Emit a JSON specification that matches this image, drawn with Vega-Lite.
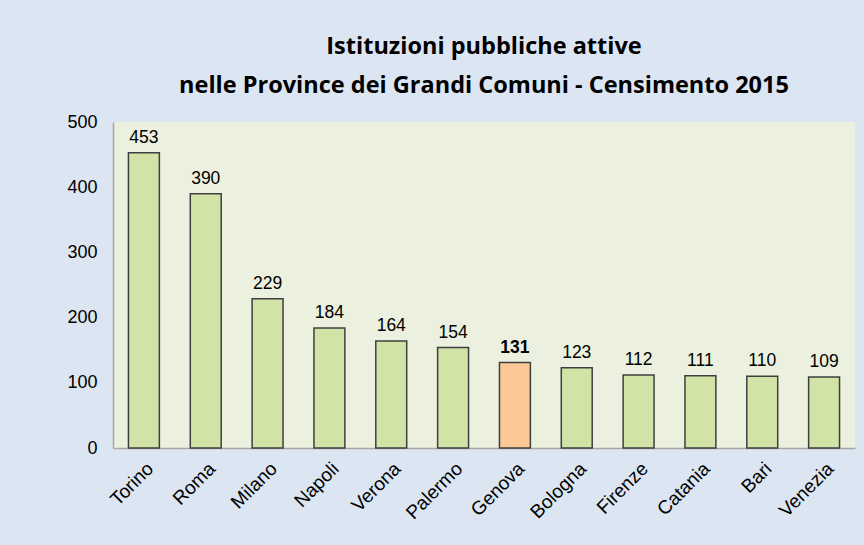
{
  "$schema": "https://vega.github.io/schema/vega-lite/v6.json",
  "width": 742,
  "height": 326,
  "autosize": "none",
  "padding": {"left": 113, "top": 122, "right": 9, "bottom": 97},
  "background": "#DCE6F2",
  "title": {
    "text": ["Istituzioni pubbliche attive", "nelle Province dei Grandi Comuni - Censimento 2015"],
    "font": "Open Sans",
    "fontSize": 23.5,
    "fontWeight": "bold",
    "color": "#000000",
    "anchor": "middle",
    "frame": "group",
    "lineHeight": 39,
    "offset": 16
  },
  "config": {
    "view": {"fill": "#EBF1DE", "stroke": null},
    "axis": {"labelFont": "Liberation Sans", "labelFontSize": 18, "labelColor": "#000000", "grid": false, "ticks": false, "domainColor": "#A6A6A6", "domainWidth": 1.5, "title": null}
  },
  "data": {
    "values": [
      {"provincia": "Torino", "valore": 453, "evidenza": false},
      {"provincia": "Roma", "valore": 390, "evidenza": false},
      {"provincia": "Milano", "valore": 229, "evidenza": false},
      {"provincia": "Napoli", "valore": 184, "evidenza": false},
      {"provincia": "Verona", "valore": 164, "evidenza": false},
      {"provincia": "Palermo", "valore": 154, "evidenza": false},
      {"provincia": "Genova", "valore": 131, "evidenza": true},
      {"provincia": "Bologna", "valore": 123, "evidenza": false},
      {"provincia": "Firenze", "valore": 112, "evidenza": false},
      {"provincia": "Catania", "valore": 111, "evidenza": false},
      {"provincia": "Bari", "valore": 110, "evidenza": false},
      {"provincia": "Venezia", "valore": 109, "evidenza": false}
    ]
  },
  "encoding": {
    "x": {
      "field": "provincia",
      "type": "nominal",
      "sort": null,
      "scale": {"paddingInner": 0.5, "paddingOuter": 0.25},
      "axis": {"labelAngle": -45, "labelPadding": 11, "labelFontSize": 19}
    },
    "y": {
      "field": "valore",
      "type": "quantitative",
      "scale": {"domain": [0, 500], "nice": false},
      "axis": {"values": [0, 100, 200, 300, 400, 500], "labelPadding": 16}
    }
  },
  "layer": [
    {
      "mark": {"type": "bar", "stroke": "#3F3F3F", "strokeWidth": 1.5},
      "encoding": {
        "color": {
          "condition": {"test": "datum.evidenza", "value": "#FCC996"},
          "value": "#D2E3A7"
        }
      }
    },
    {
      "transform": [{"filter": "!datum.evidenza"}],
      "mark": {"type": "text", "baseline": "alphabetic", "dy": -10, "font": "Liberation Sans", "fontSize": 17.5, "color": "#000000"},
      "encoding": {
        "text": {"field": "valore", "type": "quantitative"}
      }
    },
    {
      "transform": [{"filter": "datum.evidenza"}],
      "mark": {"type": "text", "baseline": "alphabetic", "dy": -10, "font": "Liberation Sans", "fontSize": 17.5, "fontWeight": "bold", "color": "#000000"},
      "encoding": {
        "text": {"field": "valore", "type": "quantitative"}
      }
    }
  ]
}
